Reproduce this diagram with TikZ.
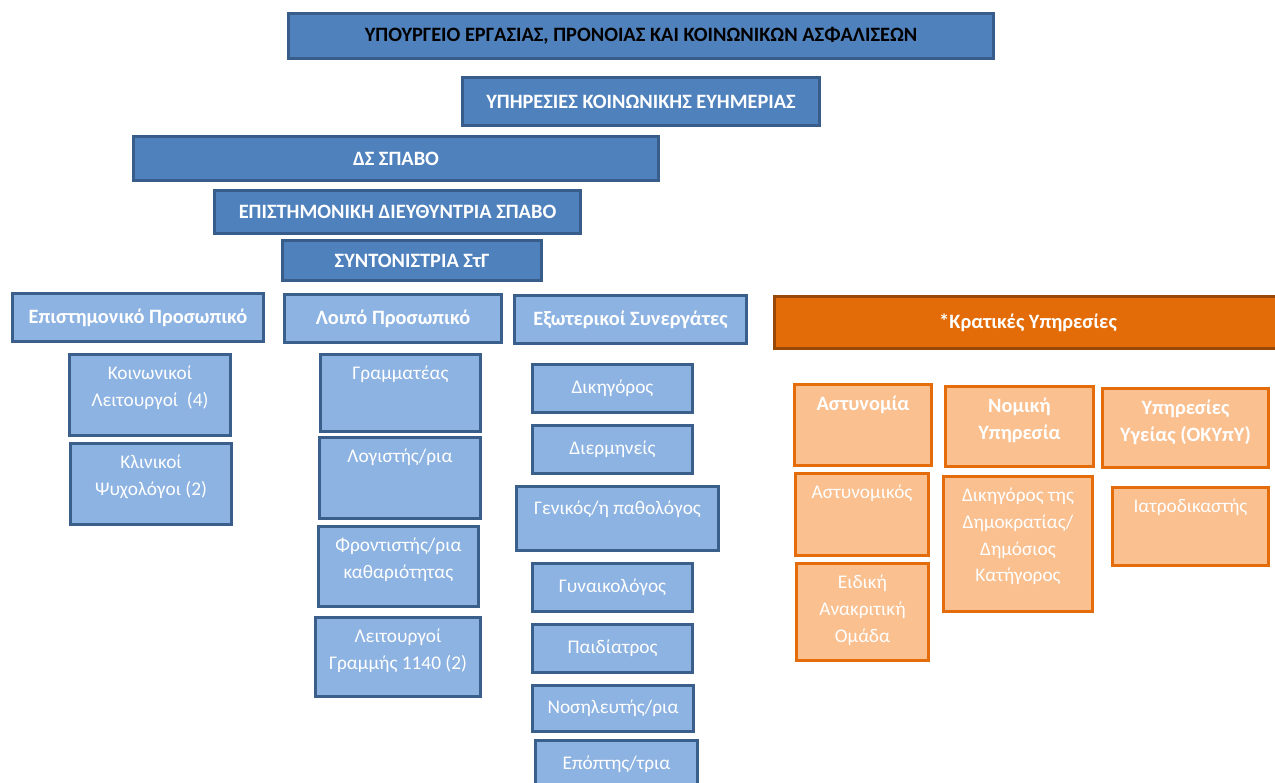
\documentclass[tikz,border=0pt]{standalone}
\usepackage{fontspec}
\setmainfont{Carlito}
\usepackage{xcolor}
\usepackage{tikz}
\usetikzlibrary{shapes,positioning}
\definecolor{dblue}{HTML}{4F81BD}
\definecolor{dline}{HTML}{385D8A}
\definecolor{lblue}{HTML}{8DB3E2}
\definecolor{lline}{HTML}{3A5F8B}
\definecolor{dorange}{HTML}{E36C09}
\definecolor{oline}{HTML}{984807}
\definecolor{lorange}{HTML}{FAC090}
\definecolor{lorline}{HTML}{E46C0A}
\tikzset{dbox/.style={rectangle,draw=dline,fill=dblue,line width=1.7pt,text=white,font=\bfseries\fontsize{11.6}{14}\selectfont}}
\tikzset{hbox/.style={rectangle,draw=lline,fill=lblue,line width=1.7pt,text=white,font=\bfseries\fontsize{11.6}{14}\selectfont}}
\tikzset{sbox/.style={rectangle,draw=lline,fill=lblue,line width=1.7pt,text=white,font=\fontsize{11}{15}\selectfont}}
\tikzset{obox/.style={rectangle,draw=oline,fill=dorange,line width=1.7pt,text=white,font=\bfseries\fontsize{11.6}{14}\selectfont}}
\tikzset{pbox/.style={rectangle,draw=lorline,fill=lorange,line width=1.7pt}}
\tikzset{lbl/.style={anchor=north,inner sep=0pt,yshift=-7pt,align=center,text=white,font=\fontsize{11}{15.3}\selectfont}}
\tikzset{lblb/.style={lbl,font=\bfseries\fontsize{11.6}{15.5}\selectfont}}

\begin{document}
\begin{tikzpicture}[x=0.02cm,y=-0.02cm]
	\useasboundingbox (0,0) rectangle (1275,782);

	\node[dbox, text=black, minimum width=14.10cm, minimum height=0.90cm] (min) at (641,36) {ΥΠΟΥΡΓΕΙΟ ΕΡΓΑΣΙΑΣ, ΠΡΟΝΟΙΑΣ ΚΑΙ ΚΟΙΝΩΝΙΚΩΝ ΑΣΦΑΛΙΣΕΩΝ};
	\node[dbox, minimum width=7.16cm, minimum height=0.96cm] (uph) at (641,101.5) {ΥΠΗΡΕΣΙΕΣ ΚΟΙΝΩΝΙΚΗΣ ΕΥΗΜΕΡΙΑΣ};
	\node[dbox, minimum width=10.50cm, minimum height=0.88cm] (dsp) at (396,158.5) {ΔΣ ΣΠΑΒΟ};
	\node[dbox, minimum width=7.32cm, minimum height=0.86cm] (epd) at (397.5,212) {ΕΠΙΣΤΗΜΟΝΙΚΗ ΔΙΕΥΘΥΝΤΡΙΑ ΣΠΑΒΟ};
	\node[dbox, minimum width=5.18cm, minimum height=0.80cm] (syn) at (412,260.5) {ΣΥΝΤΟΝΙΣΤΡΙΑ ΣτΓ};

	\node[hbox, minimum width=5.02cm, minimum height=0.96cm] (epr) at (138,317.5) {Επιστημονικό Προσωπικό};
	\node[hbox, minimum width=4.34cm, minimum height=0.96cm] (lpr) at (393,318.5) {Λοιπό Προσωπικό};
	\node[hbox, minimum width=4.64cm, minimum height=0.96cm] (exs) at (630.5,319.5) {Εξωτερικοί Συνεργάτες};

	\node[sbox, minimum width=3.22cm, minimum height=1.62cm, label={[lbl]north:{Κοινωνικοί\\Λειτουργοί\ \ (4)}}] (kl) at (150,395) {};
	\node[sbox, minimum width=3.22cm, minimum height=1.62cm, label={[lbl]north:{Κλινικοί\\Ψυχολόγοι (2)}}] (kp) at (151,484) {};

	\node[sbox, minimum width=3.20cm, minimum height=1.54cm, label={[lbl]north:{Γραμματέας}}] (gr) at (400.5,393) {};
	\node[sbox, minimum width=3.22cm, minimum height=1.62cm, label={[lbl]north:{Λογιστής/ρια}}] (lo) at (400,478) {};
	\node[sbox, minimum width=3.20cm, minimum height=1.60cm, label={[lbl]north:{Φροντιστής/ρια\\καθαριότητας}}] (fr) at (398.5,566.5) {};
	\node[sbox, minimum width=3.30cm, minimum height=1.58cm, label={[lbl]north:{Λειτουργοί\\Γραμμής 1140 (2)}}] (lg) at (398,657) {};

	\node[sbox, minimum width=3.20cm, minimum height=0.96cm] (dik) at (612.5,388.5) {Δικηγόρος};
	\node[sbox, minimum width=3.20cm, minimum height=0.96cm] (der) at (612.5,449.5) {Διερμηνείς};
	\node[sbox, minimum width=4.04cm, minimum height=1.28cm, label={[lbl,yshift=-2pt]north:{Γενικός/η παθολόγος}}] (gen) at (617.5,518.5) {};
	\node[sbox, minimum width=3.20cm, minimum height=0.96cm] (gyn) at (612.5,587.5) {Γυναικολόγος};
	\node[sbox, minimum width=3.20cm, minimum height=0.96cm] (pai) at (612.5,648.5) {Παιδίατρος};
	\node[sbox, minimum width=3.22cm, minimum height=0.92cm] (nos) at (613,708.5) {Νοσηλευτής/ρια};
	\node[sbox, minimum width=3.24cm, minimum height=0.96cm] (epo) at (616.5,764.5) {Επόπτης/τρια};

	\node[obox, minimum width=10.14cm, minimum height=1.04cm] (kra) at (1028,322.5) {*Κρατικές Υπηρεσίες};

	\node[pbox, minimum width=2.74cm, minimum height=1.62cm, label={[lblb]north:{Αστυνομία}}] (ast) at (863,425) {};
	\node[pbox, minimum width=2.96cm, minimum height=1.60cm, label={[lblb]north:{Νομική\\Υπηρεσία}}] (nom) at (1019.5,426.5) {};
	\node[pbox, minimum width=3.32cm, minimum height=1.58cm, label={[lblb]north:{Υπηρεσίες\\Υγείας (ΟΚΥπΥ)}}] (yge) at (1185.5,428) {};
	\node[pbox, minimum width=2.66cm, minimum height=1.64cm, label={[lbl]north:{Αστυνομικός}}] (asm) at (862,514.5) {};
	\node[pbox, minimum width=2.98cm, minimum height=2.70cm, label={[lbl]north:{Δικηγόρος της\\Δημοκρατίας/\\Δημόσιος\\Κατήγορος}}] (dim) at (1018,544) {};
	\node[pbox, minimum width=3.12cm, minimum height=1.56cm, label={[lbl]north:{Ιατροδικαστής}}] (iat) at (1190.5,526.5) {};
	\node[pbox, minimum width=2.64cm, minimum height=1.94cm, label={[lbl]north:{Ειδική\\Ανακριτική\\Ομάδα}}] (eao) at (862.5,612) {};

\end{tikzpicture}
\end{document}
